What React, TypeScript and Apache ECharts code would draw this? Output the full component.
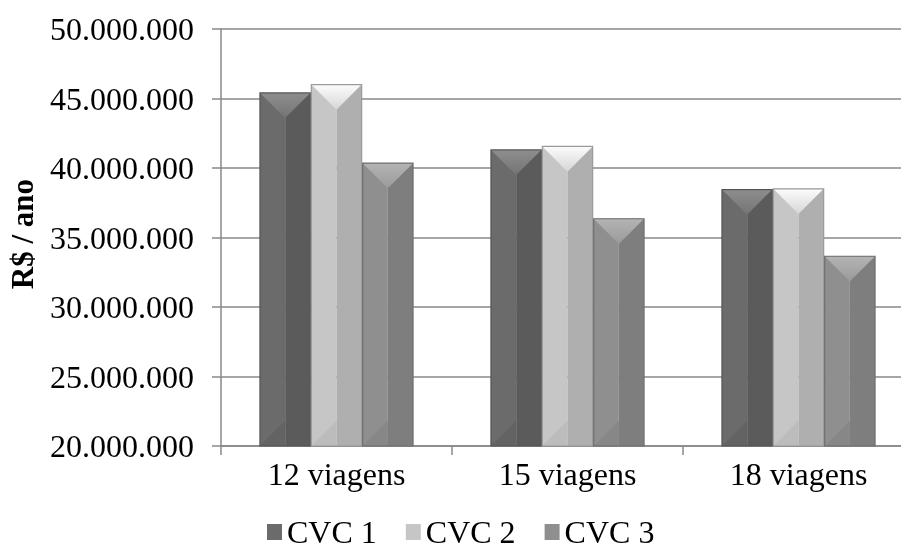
import React, { useEffect, useRef } from "react";
import * as echarts from "echarts";

const categories = ["12 viagens", "15 viagens", "18 viagens"];
const seriesNames = ["CVC 1", "CVC 2", "CVC 3"];
const cvc1 = [45400000, 41300000, 38450000];
const cvc2 = [46000000, 41550000, 38500000];
const cvc3 = [40350000, 36350000, 33650000];
const seriesValues = [cvc1, cvc2, cvc3];
const yTitle = "R$ / ano";
const yMin = 20000000;
const yMax = 50000000;
const yInterval = 5000000;

const palettes = [
  { left: "#6b6b6b", right: "#5b5b5b", topA: "#8e8e8e", topB: "#747474", bot: "#636363", stroke: "#555555" },
  { left: "#c6c6c6", right: "#afafaf", topA: "#fcfcfc", topB: "#d6d6d6", bot: "#bcbcbc", stroke: "#9a9a9a" },
  { left: "#8f8f8f", right: "#7e7e7e", topA: "#b4b4b4", topB: "#9a9a9a", bot: "#878787", stroke: "#6e6e6e" },
];

const FONT = "'Liberation Serif', 'Times New Roman', serif";

function fmt(v: number) {
  return String(Math.round(v)).replace(/\B(?=(\d{3})+(?!\d))/g, ".");
}

export default function App() {
  const ref = useRef<HTMLDivElement>(null);
  useEffect(() => {
    if (!ref.current) return;
    const chart = echarts.init(ref.current, null, { renderer: "svg" });
    const series = seriesValues.map((vals, idx) => {
      const p = palettes[idx];
      return {
        name: seriesNames[idx],
        type: "custom",
        itemStyle: { color: p.left },
        data: vals.map((v, i) => [i, v]),
        encode: { x: 0, y: 1 },
        renderItem: (params: any, api: any) => {
          const cat = api.value(0);
          const val = api.value(1);
          const topPt = api.coord([cat, val]);
          const basePt = api.coord([cat, yMin]);
          const band = api.size([1, 0])[0];
          const groupW = band * 0.667;
          const barW = groupW / 3;
          const L = topPt[0] - groupW / 2 + idx * barW + 0.5;
          const R = L + barW - 1;
          const C = (L + R) / 2;
          const hw = (R - L) / 2;
          const T = topPt[1];
          const B = basePt[1];
          return {
            type: "group",
            children: [
              { type: "rect", shape: { x: L, y: T, width: C - L, height: B - T }, style: { fill: p.left } },
              { type: "rect", shape: { x: C, y: T, width: R - C, height: B - T }, style: { fill: p.right } },
              {
                type: "polygon",
                shape: { points: [[L, B], [C, B], [C, B - hw]] },
                style: { fill: p.bot },
              },
              {
                type: "polygon",
                shape: { points: [[L, T], [R, T], [C, T + hw]] },
                style: {
                  fill: new echarts.graphic.LinearGradient(0, 0, 0, 1, [
                    { offset: 0, color: p.topA },
                    { offset: 1, color: p.topB },
                  ]),
                },
              },
              {
                type: "rect",
                shape: { x: L, y: T, width: R - L, height: B - T },
                style: { fill: "none", stroke: p.stroke, lineWidth: 1.2 },
              },
            ],
          };
        },
      };
    });
    chart.setOption({
      animation: false,
      grid: { left: 221, right: -13, top: 29, bottom: 108, outerBoundsMode: "none", containLabel: false },
      graphic: [
        {
          type: "text",
          x: 22,
          y: 234,
          rotation: Math.PI / 2,
          style: {
            text: yTitle,
            fontFamily: FONT,
            fontSize: 31,
            fontWeight: "bold",
            fill: "#000",
            textAlign: "center",
            textVerticalAlign: "middle",
          },
        },
      ],
      legend: {
        top: 516,
        left: 267,
        padding: 0,
        itemWidth: 15,
        itemHeight: 16,
        itemGap: 29,
        icon: "rect",
        textStyle: { fontFamily: FONT, fontSize: 32, color: "#000" },
        data: seriesNames,
      },
      xAxis: {
        type: "category",
        data: categories,
        axisLine: { lineStyle: { color: "#888888", width: 1.5 } },
        axisTick: { show: true, length: 9, lineStyle: { color: "#888888", width: 1.5 } },
        axisLabel: { fontFamily: FONT, fontSize: 32, color: "#000", margin: 12 },
      },
      yAxis: {
        type: "value",
        min: yMin,
        max: yMax,
        interval: yInterval,
        axisLine: { show: true, lineStyle: { color: "#888888", width: 1.5 } },
        axisTick: { show: true, length: 9, lineStyle: { color: "#888888", width: 1.5 } },
        splitLine: { lineStyle: { color: "#888888", width: 1.5 } },
        axisLabel: { fontFamily: FONT, fontSize: 32, color: "#000", margin: 27, formatter: (v: number) => fmt(v) },
      },
      series,
    });
    return () => chart.dispose();
  }, []);
  return <div ref={ref} style={{ position: "fixed", left: 0, top: 0, width: 901, height: 554 }} />;
}
